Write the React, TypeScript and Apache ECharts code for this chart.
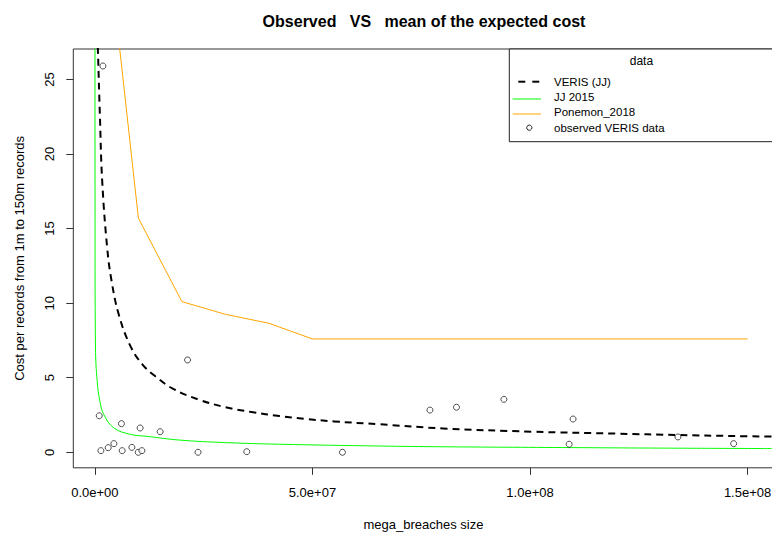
import React, { useEffect, useRef } from "react";
import * as echarts from "echarts";

// Axis ticks and their printed labels
const xTicks = [0, 5e7, 1e8, 1.5e8];
const xTickLabels = ["0.0e+00", "5.0e+07", "1.0e+08", "1.5e+08"];
const yTicks = [0, 5, 10, 15, 20, 25];

// Expected cost per record curves: [records, cost per record]
const verisJJ: [number, number][] = [
  [5.0e5, 28.8], [6.9e5, 27.0], [1.15e6, 22.6], [1.68e6, 18.2], [2.83e6, 13.7],
  [3.83e6, 11.5], [5.52e6, 9.2], [8.2e6, 7.1], [1.09e7, 5.9], [1.4e7, 5.07],
  [1.8e7, 4.25], [2.4e7, 3.52], [3.0e7, 3.02], [3.6e7, 2.7], [4.24e7, 2.43],
  [4.8e7, 2.25], [5.5e7, 2.07], [6.54e7, 1.88], [8.0e7, 1.6], [1.006e8, 1.38],
  [1.2e8, 1.25], [1.34e8, 1.16], [1.468e8, 1.09], [1.556e8, 1.05],
];

const jj2015: [number, number][] = [
  [1.0e4, 60], [4.0e4, 14], [1.4e5, 7.0], [5.3e5, 4.76], [1.15e6, 3.42],
  [2.07e6, 2.52], [4.37e6, 1.63], [8.2e6, 1.2], [1.2e7, 1.07], [1.94e7, 0.82],
  [3.0e7, 0.65], [4.24e7, 0.54], [6.54e7, 0.42], [8.0e7, 0.37], [1.12e8, 0.31],
  [1.3e8, 0.28], [1.556e8, 0.25],
];

const ponemon2018: [number, number][] = [
  [1e6, 39.49], [1e7, 15.7], [2e7, 10.1], [3e7, 9.25], [4e7, 8.65],
  [5e7, 7.6], [1.5e8, 7.6],
];

// Observed VERIS mega-breaches: [records, cost per record]
const observedVeris: [number, number][] = [
  [1.84e6, 25.9], [1.0e6, 2.45], [2.13e7, 6.19], [6.1e6, 1.92], [1.04e7, 1.63],
  [1.5e7, 1.38], [1.38e6, 0.11], [3.06e6, 0.31], [4.37e6, 0.58], [6.28e6, 0.11],
  [8.5e6, 0.33], [9.96e6, 0.0], [1.08e7, 0.11], [2.37e7, 0.0], [3.49e7, 0.04],
  [5.69e7, 0.0], [7.7e7, 2.83], [8.31e7, 3.02], [9.4e7, 3.55], [1.099e8, 2.23],
  [1.09e8, 0.54], [1.34e8, 1.03], [1.468e8, 0.58],
];

const FONT = "'Liberation Sans', Arial, sans-serif";

export default function App() {
  const ref = useRef<HTMLDivElement>(null);

  useEffect(() => {
    if (!ref.current) return;
    const chart = echarts.init(ref.current, null, { renderer: "svg" });

    const gridLeft = 73.3;
    const gridTop = 49;
    const gridWidth = 700.2;
    const gridHeight = 418.8;

    const legendLeft = 509.3;
    const legendRight = gridLeft + gridWidth;

    chart.setOption({
      animation: false,
      backgroundColor: "#ffffff",
      textStyle: { fontFamily: FONT },
      title: {
        text: "Observed   VS   mean of the expected cost",
        left: 419,
        top: 8,
        textAlign: "center",
        textStyle: { fontFamily: FONT, fontSize: 16, fontWeight: "bold", color: "#000" },
      },
      grid: {
        left: gridLeft,
        top: gridTop,
        width: gridWidth,
        height: gridHeight,
        show: true,
        borderColor: "#333",
        borderWidth: 1,
        outerBoundsMode: "none",
        containLabel: false,
      },
      xAxis: {
        type: "value",
        min: -4.96e6,
        max: 1.5596e8,
        name: "mega_breaches size",
        nameLocation: "middle",
        nameGap: 50,
        nameTextStyle: { fontFamily: FONT, fontSize: 13, color: "#000" },
        axisLine: { show: false, onZero: false },
        axisTick: {
          show: true,
          length: 7,
          customValues: xTicks,
          lineStyle: { color: "#333" },
        },
        axisLabel: {
          customValues: xTicks,
          margin: 18,
          fontFamily: FONT,
          fontSize: 13,
          color: "#000",
          formatter: (v: number) => {
            const i = xTicks.indexOf(v);
            return i >= 0 ? xTickLabels[i] : "";
          },
        },
        splitLine: { show: false },
      },
      yAxis: {
        type: "value",
        min: -1.04,
        max: 27.04,
        name: "Cost per records from 1m to 150m records",
        nameLocation: "middle",
        nameGap: 47,
        nameTextStyle: { fontFamily: FONT, fontSize: 13, color: "#000" },
        axisLine: { show: false, onZero: false },
        axisTick: {
          show: true,
          length: 7,
          customValues: yTicks,
          lineStyle: { color: "#333" },
        },
        axisLabel: {
          customValues: yTicks,
          rotate: 90,
          margin: 17,
          fontFamily: FONT,
          fontSize: 13,
          color: "#000",
          formatter: (v: number) => String(v),
        },
        splitLine: { show: false },
      },
      series: [
        {
          name: "VERIS (JJ)",
          type: "line",
          data: verisJJ,
          showSymbol: false,
          smooth: 0.4,
          clip: true,
          lineStyle: { color: "#000", width: 2, type: [7, 5] },
        },
        {
          name: "JJ 2015",
          type: "line",
          data: jj2015,
          showSymbol: false,
          smooth: 0.4,
          clip: true,
          lineStyle: { color: "#00ff00", width: 1 },
        },
        {
          name: "Ponemon_2018",
          type: "line",
          data: ponemon2018,
          showSymbol: false,
          clip: true,
          lineStyle: { color: "#ffa500", width: 1 },
        },
        {
          name: "observed VERIS data",
          type: "scatter",
          data: observedVeris,
          symbol: "circle",
          symbolSize: 6,
          clip: true,
          itemStyle: { color: "#ffffff", borderColor: "#222", borderWidth: 1 },
          z: 3,
        },
      ],
      graphic: [
        {
          type: "rect",
          shape: { x: legendLeft, y: gridTop, width: legendRight - legendLeft, height: 141.7 - gridTop },
          style: { fill: "#ffffff", stroke: "#222", lineWidth: 1 },
          z: 10,
        },
        {
          type: "text",
          x: (legendLeft + legendRight) / 2,
          y: 60.7,
          style: {
            text: "data",
            fill: "#000",
            font: `12px ${FONT}`,
            textAlign: "center",
            textVerticalAlign: "middle",
          },
          z: 11,
        },
        // dashed symbol for VERIS (JJ)
        {
          type: "line",
          shape: { x1: 518.3, y1: 81.7, x2: 525.3, y2: 81.7 },
          style: { stroke: "#000", lineWidth: 2 },
          z: 11,
        },
        {
          type: "line",
          shape: { x1: 532.3, y1: 81.7, x2: 539.3, y2: 81.7 },
          style: { stroke: "#000", lineWidth: 2 },
          z: 11,
        },
        {
          type: "line",
          shape: { x1: 512.7, y1: 99, x2: 541, y2: 99 },
          style: { stroke: "#00ff00", lineWidth: 1 },
          z: 11,
        },
        {
          type: "line",
          shape: { x1: 512.7, y1: 114, x2: 541, y2: 114 },
          style: { stroke: "#ffa500", lineWidth: 1 },
          z: 11,
        },
        {
          type: "circle",
          shape: { cx: 529.3, cy: 127.7, r: 2.6 },
          style: { fill: "#ffffff", stroke: "#222", lineWidth: 1 },
          z: 11,
        },
        ...[
          ["VERIS (JJ)", 81.7],
          ["JJ 2015", 97.3],
          ["Ponemon_2018", 111.9],
          ["observed VERIS data", 127.7],
        ].map(([t, y]) => ({
          type: "text",
          x: 554,
          y: y as number,
          style: {
            text: t as string,
            fill: "#000",
            font: `11.5px ${FONT}`,
            textAlign: "left",
            textVerticalAlign: "middle",
          },
          z: 11,
        })),
      ],
    });

    return () => chart.dispose();
  }, []);

  return (
    <div
      ref={ref}
      style={{ position: "absolute", left: 0, top: 0, width: 772, height: 534 }}
    />
  );
}
